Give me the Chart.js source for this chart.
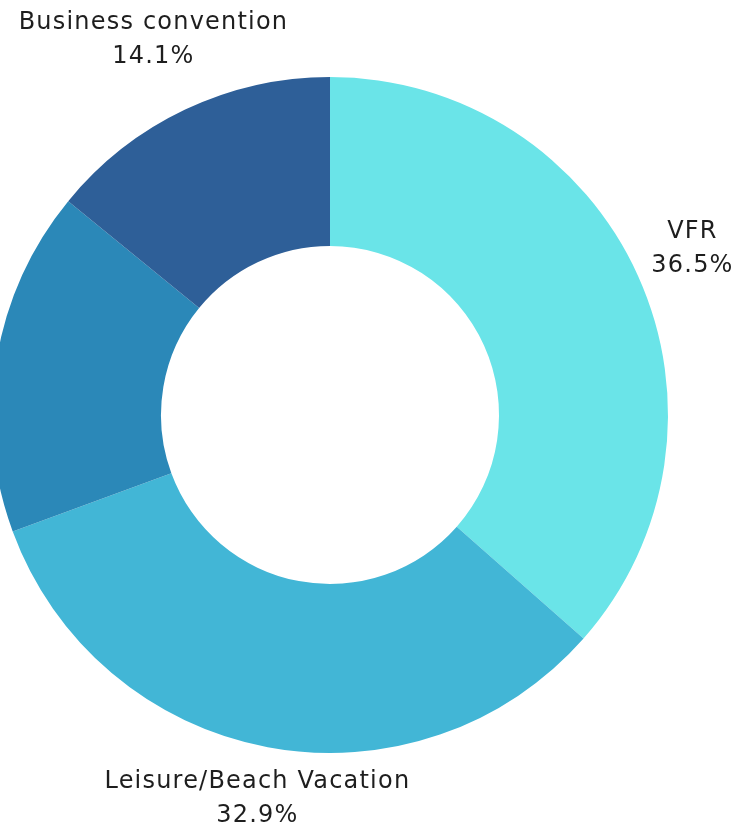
<!DOCTYPE html>
<html>
<head>
<meta charset="utf-8">
<script src="https://cdn.jsdelivr.net/npm/chart.js@4"></script>
<style>
    html, body { margin: 0; padding: 0; background: #fff; overflow: hidden; }
    .wrap { position: absolute; left: -8px; top: 0; width: 750px; height: 829px; }
</style>
</head>
<body>
<div class="wrap"><canvas id="doughnutChart"></canvas></div>
<script>
//============================================= Data =============================================//
const categories = ['VFR', 'Leisure/Beach Vacation', 'Other', 'Business convention'];
const shares = [36.5, 32.9, 16.5, 14.1];
const sliceColors = ['#6ae4e8', '#42b6d6', '#2b88b8', '#2e5f98'];

//============================================= Outside labels =============================================//
const outsideLabels = {
    id: 'outsideLabels',
    afterDatasetsDraw(chart) {
        const {ctx, data, width} = chart;
        const arcs = chart.getDatasetMeta(0).data;

        ctx.save();
        ctx.font = '24px "DejaVu Sans", sans-serif';
        ctx.letterSpacing = '1.2px';
        ctx.fillStyle = '#1e1e1e';
        ctx.textAlign = 'center';
        ctx.textBaseline = 'middle';

        arcs.forEach((arc, i) => {
            const mid = (arc.startAngle + arc.endAngle) / 2;
            const up = Math.max(0, -Math.sin(mid));
            const r = arc.outerRadius + 56 + 22 * up * up;
            const x = arc.x + Math.cos(mid) * r;
            const y = arc.y + Math.sin(mid) * r;
            const name = data.labels[i];
            const pct = data.datasets[0].data[i].toFixed(1) + '%';
            const w = Math.max(ctx.measureText(name).width, ctx.measureText(pct).width);

            // slice labels that would fall off the canvas are not shown
            if (x - w / 2 < 0 || x + w / 2 > width) return;

            ctx.fillText(name, x, y - 20);
            ctx.fillText(pct, x, y + 14);
        });
        ctx.restore();
    }
};

//============================================= Doughnut Chart =============================================//
const doughnutData = {
    labels: categories,
    datasets: [{
        data: shares,
        backgroundColor: sliceColors,
        borderWidth: 0
    }]
};

const doughnutConfig = {
    type: 'doughnut',
    data: doughnutData,
    options: {
        responsive: true,
        maintainAspectRatio: false,
        animation: false,
        cutout: '50%',
        layout: {
            padding: {top: 77, bottom: 76, left: 0, right: 74}
        },
        plugins: {
            legend: {display: false},
            tooltip: {enabled: false}
        }
    },
    plugins: [outsideLabels]
};

new Chart(document.getElementById('doughnutChart'), doughnutConfig);
</script>
</body>
</html>
